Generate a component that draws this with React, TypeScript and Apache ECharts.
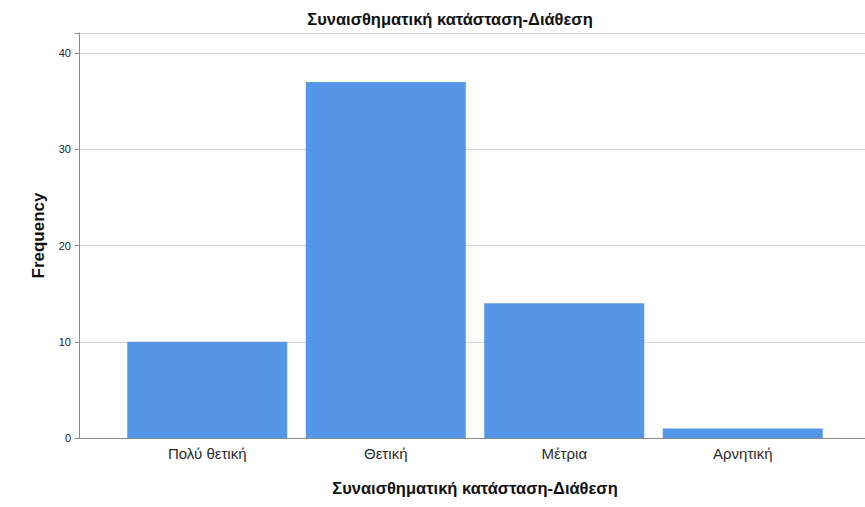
import React, { useEffect, useRef } from "react";
import * as echarts from "echarts";

const categories = ["Πολύ θετική", "Θετική", "Μέτρια", "Αρνητική"];
const frequencies = [10, 37, 14, 1];
const yTicks = [0, 10, 20, 30, 40];
const titleText = "Συναισθηματική κατάσταση-Διάθεση";
const xAxisTitle = "Συναισθηματική κατάσταση-Διάθεση";
const yAxisTitle = "Frequency";

const FONT = "'Liberation Sans', Arial, sans-serif";

export default function App() {
  const ref = useRef<HTMLDivElement>(null);
  useEffect(() => {
    if (!ref.current) return;
    const chart = echarts.init(ref.current, null, { renderer: "svg" });
    const yMax = 42.1;
    chart.setOption({
      animation: false,
      backgroundColor: "#ffffff",
      textStyle: { fontFamily: FONT },
      title: {
        text: titleText,
        left: 445,
        top: 5,
        textAlign: "center",
        textStyle: { fontFamily: FONT, fontSize: 16.5, fontWeight: "bold", color: "#111" },
      },
      grid: [
        { left: 79, right: 0, top: 33, bottom: 69, containLabel: false },
        { left: 118, right: 33, top: 33, bottom: 69, containLabel: false },
      ],
      xAxis: [
        {
          type: "category",
          gridIndex: 0,
          data: [""],
          axisLine: { show: true, lineStyle: { color: "#8c8c8c", width: 1 } },
          axisTick: { show: false },
          axisLabel: { show: false },
          splitLine: { show: false },
        },
        {
          type: "category",
          gridIndex: 1,
          data: categories,
          axisLine: { show: false },
          axisTick: { show: false },
          axisLabel: { color: "#2a2a2a", fontSize: 15, margin: 8, fontFamily: FONT },
          name: xAxisTitle,
          nameLocation: "middle",
          nameGap: 41,
          nameTextStyle: { fontFamily: FONT, fontSize: 16.5, fontWeight: "bold", color: "#111" },
        },
      ],
      yAxis: [
        {
          type: "value",
          gridIndex: 0,
          min: 0,
          max: yMax,
          interval: 10,
          axisLine: { show: true, lineStyle: { color: "#8c8c8c", width: 1 } },
          axisTick: { show: true, length: 4, lineStyle: { color: "#8c8c8c" } },
          axisLabel: {
            color: "#222",
            fontSize: 11,
            margin: 8,
            fontFamily: FONT,
            customValues: yTicks,
          },
          splitLine: { show: true, lineStyle: { color: "#d4d4d4", width: 1 } },
          name: yAxisTitle,
          nameLocation: "middle",
          nameGap: 32,
          nameTextStyle: { fontFamily: FONT, fontSize: 17, fontWeight: "bold", color: "#111" },
        },
        {
          type: "value",
          gridIndex: 1,
          min: 0,
          max: yMax,
          show: false,
          splitLine: { show: false },
        },
      ],
      series: [
        {
          type: "bar",
          xAxisIndex: 1,
          yAxisIndex: 1,
          data: frequencies,
          barWidth: 160,
          itemStyle: { color: "#5596e6" },
        },
      ],
    });
    return () => chart.dispose();
  }, []);
  return <div ref={ref} style={{ width: 865, height: 507, position: "absolute", left: 0, top: 0 }} />;
}
